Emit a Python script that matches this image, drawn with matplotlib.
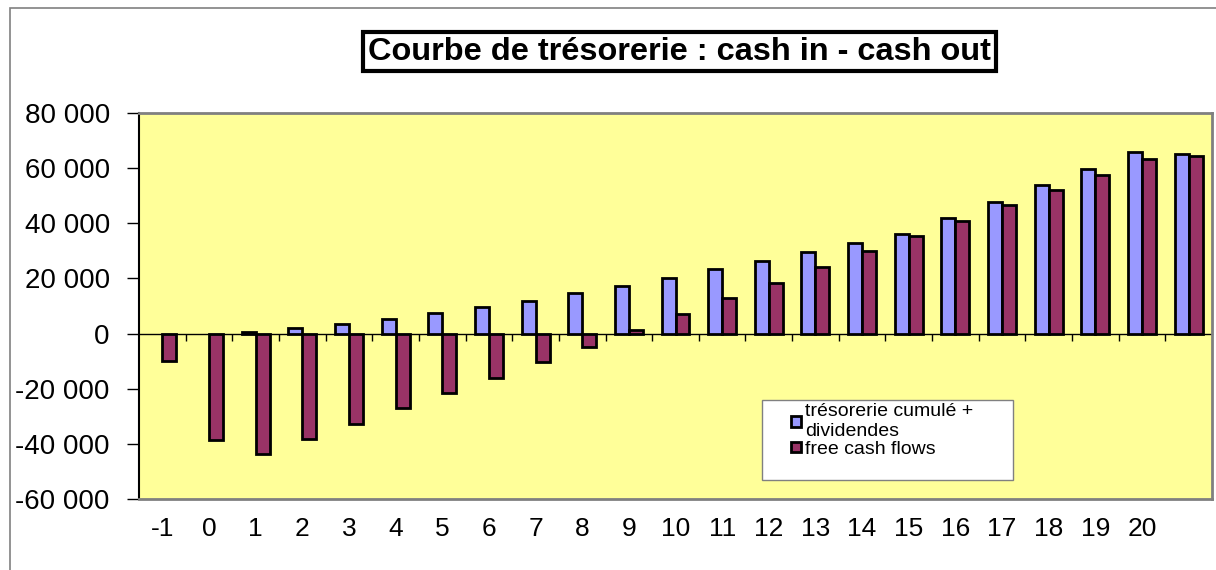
import numpy as np
import matplotlib
matplotlib.use('Agg')
import matplotlib.pyplot as plt
from matplotlib.ticker import FuncFormatter, FixedLocator
from matplotlib.patches import Rectangle, Patch

plt.rcParams['font.family'] = ['Liberation Sans', 'DejaVu Sans']

# annees -1 .. 20, plus une derniere colonne sans libelle
labels = [str(a) for a in range(-1, 21)] + ['']
tresorerie = [0, 0, 500, 1900, 3500, 5300, 7300, 9700, 11900, 14800, 17200,
              20100, 23300, 26300, 29400, 32800, 35900, 41800, 47800, 53800,
              59600, 65600, 65000]
fcf = [-9800, -38600, -43500, -38200, -32700, -27100, -21600, -15900, -10300,
       -4700, 1300, 7000, 12800, 18400, 24100, 29800, 35200, 40700, 46400,
       52000, 57500, 63200, 64400]
serie_names = ['trésorerie cumulé +\ndividendes', 'free cash flows']

blue = '#9999FF'
red = '#993366'

fig = plt.figure(figsize=(12.16, 5.70), dpi=100)
ax = fig.add_axes([139/1216, 1 - 499.3/570, 1073/1216, 386.6/570])
ax.set_facecolor('#FFFF99')

x = np.arange(len(labels))
w = 0.3
b1 = ax.bar(x - w/2, tresorerie, w, color=blue, edgecolor='black', linewidth=2, zorder=3)
b2 = ax.bar(x + w/2, fcf, w, color=red, edgecolor='black', linewidth=2, zorder=3)
# pas de trait pour les valeurs nulles
for bars in (b1, b2):
    for r in bars:
        if r.get_height() == 0:
            r.set_linewidth(0)

ax.set_xlim(-0.5, len(labels) - 0.5)
ax.set_ylim(-60000, 80000)
ax.set_yticks(np.arange(-60000, 80001, 20000))
ax.yaxis.set_major_formatter(FuncFormatter(lambda v, p: f"{v:,.0f}".replace(',', ' ')))
ax.tick_params(axis='y', length=9, width=1, pad=12, labelsize=20, direction='out')

ax.set_xticks(x)
ax.set_xticklabels(labels)
ax.tick_params(axis='x', length=0, pad=13, labelsize=19)

for s in ['top', 'right', 'bottom']:
    ax.spines[s].set_color('#808080')
    ax.spines[s].set_linewidth(2)
ax.spines['left'].set_color('black')
ax.spines['left'].set_linewidth(1.5)

# axe des categories sur la ligne du zero
zero_frac = 60000 / 140000
sec = ax.secondary_xaxis(zero_frac)
sec.xaxis.set_major_locator(FixedLocator(np.arange(0.5, len(labels) - 1, 1.0)))
sec.tick_params(axis='x', direction='out', length=5, width=1, labelbottom=False,
                labeltop=False, bottom=True, top=False)
sec.spines['bottom'].set_color('black')
sec.spines['bottom'].set_linewidth(1)
sec.spines['bottom'].set_zorder(4)

# legende
ax.add_patch(Rectangle((0.5806, 0.05), 0.234, 0.2068, transform=ax.transAxes,
                       facecolor='white', edgecolor='#808080', linewidth=1, zorder=5))
handles = [Patch(facecolor=blue, edgecolor='black', linewidth=2),
           Patch(facecolor=red, edgecolor='black', linewidth=2)]
leg = ax.legend(handles, serie_names, loc='upper left', bbox_to_anchor=(0.6, 0.268),
                frameon=False, fontsize=14, handlelength=0.55, handleheight=0.45,
                handletextpad=0.2, labelspacing=0.05, borderaxespad=0)
leg.set_zorder(6)

# titre encadre
fig.text(679.5/1216, 1 - 51.5/570, 'Courbe de trésorerie : cash in - cash out',
         ha='center', va='center', fontsize=23.4, fontweight='bold',
         bbox=dict(boxstyle='square,pad=0.15', facecolor='white',
                   edgecolor='black', linewidth=3))

# cadre du graphique
fig.patches.append(Rectangle((10/1216, -0.1), 1.2, 1 - 8/570 + 0.1,
                             transform=fig.transFigure, fill=False,
                             edgecolor='#808080', linewidth=1.2))

fig.savefig('out.png', dpi=100)
